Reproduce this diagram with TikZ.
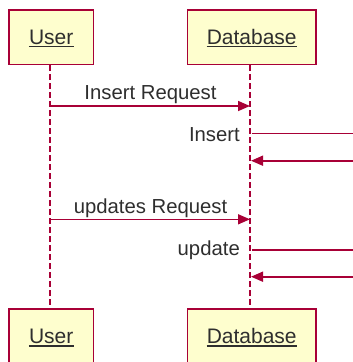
\documentclass[tikz,border=0pt]{standalone}
\usepackage{fontspec}
\setmainfont{Liberation Sans}
\usetikzlibrary{arrows.meta}
\definecolor{umlred}{HTML}{A80036}
\definecolor{umlfill}{HTML}{FEFECE}
\definecolor{umltext}{HTML}{2E2E2E}
\tikzset{
  actorbox/.style={draw=umlred, fill=umlfill, line width=1.6pt,
    minimum height=54.5pt, inner sep=0pt},
  actorname/.style={text=umltext, inner sep=0pt,
    font=\fontsize{21}{25}\selectfont},
  uline/.style={draw=umltext, line width=1.2pt},
  lifeline/.style={draw=umlred, line width=1.6pt, dash pattern=on 5.5pt off 3.5pt},
  msg/.style={draw=umlred, line width=1.6pt,
    -{Triangle[length=12pt,width=10pt]}},
  msglabel/.style={text=umltext, inner sep=0pt,
    font=\fontsize{20.3}{24}\selectfont}
}
\begin{document}
\begin{tikzpicture}[x=1pt, y=-1pt]
\useasboundingbox (0,0) rectangle (353,362);
\clip (0,0) rectangle (353,362);

% participant boxes, top and bottom
\node[actorbox, minimum width=84.5pt]  (user)  at (51.2,37.3)  {};
\node[actorbox, minimum width=128.7pt] (db)    at (251.7,37.3) {};
\node[actorbox, minimum width=84.5pt]  (userb) at (51.2,336.5) {};
\node[actorbox, minimum width=128.7pt] (dbb)   at (251.7,336.5) {};

% lifelines
\coordinate (ut) at (50,65);   \coordinate (ub) at (50,309);
\coordinate (dt) at (250,65);  \coordinate (db2) at (250,309);
\draw[lifeline] (ut) -- (ub);
\draw[lifeline] (dt) -- (db2);

% participant names, underlined
\foreach \nm/\txt/\px/\py in {un/User/51.2/44.5, dn/Database/251.7/44.5,
                               ubn/User/51.2/343.7, dbn/Database/251.7/343.7}{
  \node[actorname, anchor=base] (\nm) at (\px,\py) {\txt};
  \draw[uline] ([yshift=-2.2pt]\nm.base west) -- ([yshift=-2.2pt]\nm.base east);
}

% Insert Request
\coordinate (m1s) at (50,106);  \coordinate (m1e) at (250,106);
\draw[msg] (m1s) -- (m1e);
\node[msglabel, anchor=base] (l1) at (150.5,99.5) {Insert Request};

% Insert (self message)
\coordinate (s1a) at (252,133.3); \coordinate (s1b) at (365,133.3);
\coordinate (s1c) at (365,160.7); \coordinate (s1d) at (251,160.7);
\draw[msg] (s1a) -- (s1b) -- (s1c) -- (s1d);
\node[msglabel, anchor=base east] (l2) at (240,141) {Insert};

% updates Request
\coordinate (m2s) at (50,219.3); \coordinate (m2e) at (250,219.3);
\draw[msg] (m2s) -- (m2e);
\node[msglabel, anchor=base] (l3) at (150.5,213.3) {updates Request};

% update (self message)
\coordinate (s2a) at (252,250); \coordinate (s2b) at (365,250);
\coordinate (s2c) at (365,276.7); \coordinate (s2d) at (251,276.7);
\draw[msg] (s2a) -- (s2b) -- (s2c) -- (s2d);
\node[msglabel, anchor=base east] (l4) at (240,255.5) {update};
\end{tikzpicture}
\end{document}
